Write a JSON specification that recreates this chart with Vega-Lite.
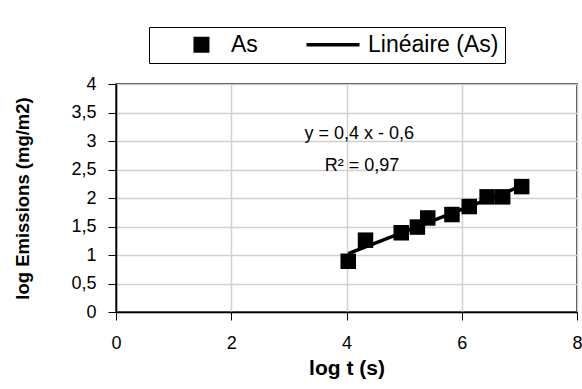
{
  "$schema": "https://vega.github.io/schema/vega-lite/v6.json",
  "width": 461,
  "height": 228,
  "autosize": {"type": "none"},
  "padding": {"left": 116, "top": 84, "right": 5, "bottom": 77},
  "background": "white",
  "config": {
    "font": "Liberation Sans",
    "view": {"stroke": "black", "strokeWidth": 1.5},
    "axis": {
      "gridColor": "#d0d0d0",
      "gridWidth": 1.5,
      "domainColor": "black",
      "domainWidth": 1.5,
      "tickColor": "black",
      "tickWidth": 1,
      "tickSize": 8,
      "labelFont": "Liberation Sans",
      "labelFontSize": 18,
      "labelColor": "black",
      "labelOverlap": false,
      "titleFont": "Liberation Sans",
      "titleFontWeight": "bold",
      "titleColor": "black"
    }
  },
  "datasets": {
    "as": [
      {"logt": 4.03, "logE": 0.89},
      {"logt": 4.33, "logE": 1.26},
      {"logt": 4.95, "logE": 1.39},
      {"logt": 5.23, "logE": 1.49},
      {"logt": 5.41, "logE": 1.65},
      {"logt": 5.83, "logE": 1.71},
      {"logt": 6.13, "logE": 1.85},
      {"logt": 6.44, "logE": 2.02},
      {"logt": 6.71, "logE": 2.02},
      {"logt": 7.04, "logE": 2.20}
    ],
    "note": [{"logt": 4.22, "logE": 3.12, "label": "y = 0,4 x - 0,6"}, {"logt": 4.27, "logE": 2.57, "label": "R² = 0,97"}]
  },
  "encoding": {
    "x": {
      "field": "logt", "type": "quantitative",
      "scale": {"domain": [0, 8], "nice": false, "zero": false},
      "axis": {"values": [0, 2, 4, 6, 8], "title": "log t (s)", "titleFontSize": 21, "labelPadding": 14, "titlePadding": 5, "labelFlush": false}
    },
    "y": {
      "field": "logE", "type": "quantitative",
      "scale": {"domain": [0, 4], "nice": false},
      "axis": {"values": [0, 0.5, 1, 1.5, 2, 2.5, 3, 3.5, 4], "format": "~g", "labelExpr": "replace(datum.label, '.', ',')", "title": "log Emissions (mg/m2)", "titleFontSize": 18.5, "labelPadding": 12, "titlePadding": 38}
    }
  },
  "layer": [
    {
      "data": {"name": "as"},
      "transform": [{"regression": "logE", "on": "logt", "method": "linear"}],
      "mark": {"type": "line", "strokeWidth": 3.5, "clip": true},
      "encoding": {
        "color": {
          "datum": "Linéaire (As)",
          "type": "nominal",
          "scale": {"domain": ["As", "Linéaire (As)"], "range": ["black", "black"]},
          "legend": {
            "title": null,
            "orient": "none",
            "legendX": 33,
            "legendY": -57,
            "direction": "horizontal",
            "fillColor": "white",
            "strokeColor": "black",
            "padding": 6,
            "labelFont": "Liberation Sans",
            "labelFontSize": 23,
            "labelColor": "black",
            "columnPadding": 34,
            "labelOffset": 53,
            "symbolSize": 256,
            "symbolStrokeWidth": 0,
            "encode": {
              "symbols": {
                "update": {
                  "shape": {"signal": "datum.value === 'As' ? 'M3.37,-1H5.37V1H3.37Z' : 'M0.375,0L7.0,0'"},
                  "size": {"value": 256},
                  "fill": {"signal": "datum.value === 'As' ? 'black' : 'transparent'"},
                  "stroke": {"value": "black"},
                  "strokeWidth": {"signal": "datum.value === 'As' ? 0 : 3.5"},
                  "opacity": {"value": 1}
                }
              }
            }
          }
        }
      }
    },
    {
      "data": {"name": "as"},
      "mark": {"type": "point", "shape": "square", "filled": true, "size": 240, "opacity": 1},
      "encoding": {
        "color": {"datum": "As", "type": "nominal"}
      }
    },
    {
      "data": {"name": "note"},
      "mark": {"type": "text", "fontSize": 18, "font": "Liberation Sans", "color": "black", "align": "center", "baseline": "middle"},
      "encoding": {
        "text": {"field": "label"}
      }
    }
  ]
}
